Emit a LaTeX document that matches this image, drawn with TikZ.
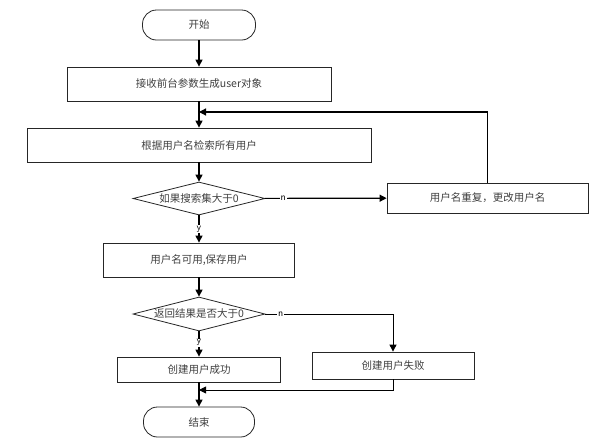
\documentclass[tikz,border=0pt]{standalone}
\usepackage{fontspec}
\newfontfamily\cjk{Noto Sans CJK SC}
\usetikzlibrary{shapes.geometric,arrows.meta}
\begin{document}
\begin{tikzpicture}[x=1pt,y=-1pt,
  base/.style={draw=black!85, line width=0.8pt, inner sep=0pt, text=black!75,
    font=\cjk\fontsize{10.5}{12}\selectfont},
  box/.style={base, rectangle},
  term/.style={base, rectangle, rounded corners=14pt},
  cond/.style={base, diamond, aspect=4},
  arr/.style={draw=black, line width=1.2pt, -{Triangle[length=7pt,width=7pt]}},
  thinarr/.style={draw=black, line width=0.9pt, -{Triangle[length=7pt,width=7pt]}},
  lbl/.style={fill=white, inner sep=1pt, text=black, font=\sffamily\fontsize{10}{11}\selectfont}]
\fill[white] (0,0) rectangle (605,445);
\useasboundingbox (0,0) rectangle (605,445);

\node[term, minimum width=113pt, minimum height=30pt] (start) at (199,25) {开始};
\node[box, minimum width=264pt, minimum height=34pt] (b1) at (199,84) {接收前台参数生成user对象};
\node[box, minimum width=344pt, minimum height=34pt] (b2) at (199,145) {根据用户名检索所有用户};
\node[cond, minimum width=132pt, minimum height=33pt] (d1) at (199,198.5) {如果搜索集大于0};
\node[box, minimum width=201pt, minimum height=30pt] (b6) at (487.5,198) {用户名重复，更改用户名};
\node[box, minimum width=191pt, minimum height=34pt] (b3) at (199,260) {用户名可用,保存用户};
\node[cond, minimum width=132pt, minimum height=34pt] (d2) at (199,314) {返回结果是否大于0};
\node[box, minimum width=163pt, minimum height=25pt] (b4) at (199,369.5) {创建用户成功};
\node[box, minimum width=162pt, minimum height=27pt] (b5) at (393,365.5) {创建用户失败};
\node[term, minimum width=111pt, minimum height=30pt] (end) at (199,422) {结束};

\coordinate (fb) at (199,112);
\coordinate (mg) at (199,390);

\draw[arr] (start) -- (b1);
\draw[arr] (b1) -- (b2);
\draw[arr] (b2) -- (d1);
\draw[arr] (d1) -- (b3) node[lbl, pos=0.5] (y1) {y};
\draw[arr] (d1) -- (b6) node[lbl, pos=0.15] (n1) {n};
\draw[arr] (b6.north) |- (fb);
\draw[arr] (b3) -- (d2);
\draw[arr] (d2) -- (b4) node[lbl, pos=0.45] (y2) {y};
\draw[thinarr] (d2.east) -| (b5.north) node[lbl, pos=0.06] (n2) {n};
\draw[arr] (b4) -- (end);
\draw[thinarr] (b5.south) |- (mg);
\end{tikzpicture}
\end{document}
